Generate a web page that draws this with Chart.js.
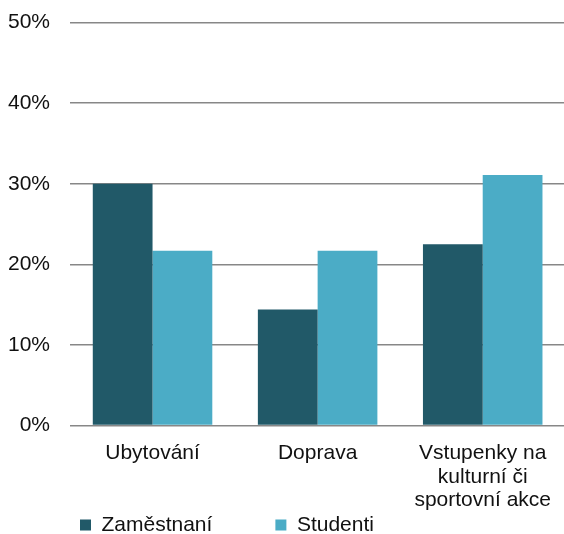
<!DOCTYPE html>
<html>
<head>
<meta charset="utf-8">
<script src="https://cdn.jsdelivr.net/npm/chart.js@4.4.1/dist/chart.umd.min.js"></script>
<style>
  html, body { margin: 0; padding: 0; background: #fff; overflow: hidden; }
  #wrap { width: 567px; height: 534px; }
</style>
</head>
<body>
<div id="wrap"><canvas id="c" width="567" height="534"></canvas></div>
<script>
const categories = ['Ubytování', 'Doprava', ['Vstupenky na', 'kulturní či', 'sportovní akce']];
const seriesNames = ['Zaměstnaní', 'Studenti'];
const zamestnani = [30, 14.4, 22.5];
const studenti = [21.7, 21.7, 31.1];
const yTicks = [0, 10, 20, 30, 40, 50];

const FONT = "'Liberation Sans', Arial, sans-serif";
const LEGEND_PAD = 63;

const legendPlace = {
  id: 'legendPlace',
  beforeDraw(chart) {
    const lg = chart.legend;
    if (!lg) return;
    lg.left = 80 - LEGEND_PAD;
    lg.top = 514.5 - LEGEND_PAD;
  }
};

new Chart(document.getElementById('c'), {
  type: 'bar',
  data: {
    labels: categories,
    datasets: [
      { label: seriesNames[0], data: zamestnani, backgroundColor: '#215968', borderWidth: 0 },
      { label: seriesNames[1], data: studenti, backgroundColor: '#4BACC6', borderWidth: 0 }
    ]
  },
  options: {
    responsive: false,
    animation: false,
    devicePixelRatio: 1,
    layout: { padding: { top: 22.7, left: 0, right: 0, bottom: 0 } },
    datasets: { bar: { categoryPercentage: 0.724, barPercentage: 1.0 } },
    scales: {
      x: {
        grid: { display: false, drawTicks: false },
        border: { display: false },
        ticks: {
          color: '#111',
          font: { family: FONT, size: 21, lineHeight: 1.12 },
          padding: 16,
          maxRotation: 0,
          autoSkip: false
        }
      },
      y: {
        min: 0,
        max: 50,
        afterBuildTicks(scale) { scale.ticks = yTicks.map(v => ({ value: v })); },
        afterFit(scale) { scale.width = 70; },
        grid: { color: '#878787', lineWidth: 1.5, drawTicks: true, tickLength: 20, tickColor: 'rgba(0,0,0,0)' },
        border: { display: false },
        ticks: {
          color: '#111',
          font: { family: FONT, size: 21 },
          padding: 0,
          callback: v => v + '%'
        }
      }
    },
    plugins: {
      legend: {
        position: 'bottom',
        align: 'start',
        maxHeight: 6,
        labels: {
          color: '#111',
          font: { family: FONT, size: 21 },
          boxWidth: 11,
          boxHeight: 11,
          padding: LEGEND_PAD
        }
      },
      tooltip: { enabled: false }
    }
  },
  plugins: [legendPlace]
});
</script>
</body>
</html>
